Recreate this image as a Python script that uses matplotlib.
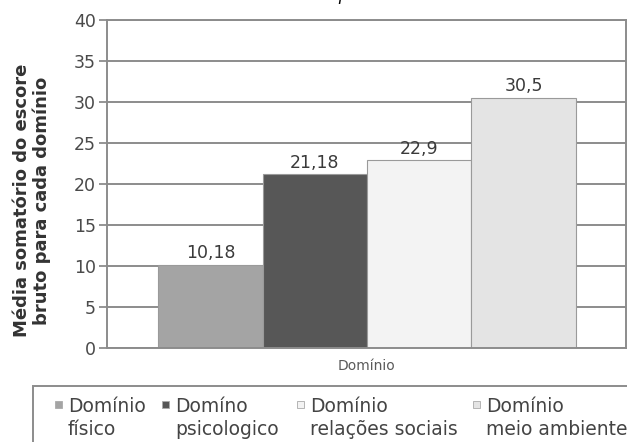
# Média do escore bruto por domínio - gráfico de barras em tons de cinza

import numpy as np
import matplotlib.pyplot as plt
from matplotlib.patches import Rectangle

plt.rcParams['font.family'] = ['DejaVu Sans']

# Dados
dominios = ['Domínio\nfísico', 'Domíno\npsicologico',
            'Domínio\nrelações sociais', 'Domínio\nmeio ambiente']
medias = [10.18, 21.18, 22.9, 30.5]
rotulos = ['10,18', '21,18', '22,9', '30,5']
cores = ['#a4a4a4', '#575757', '#f3f3f3', '#e4e4e4']
yticks = [0, 5, 10, 15, 20, 25, 30, 35, 40]

cinza = '#8c8c8c'

fig = plt.figure(figsize=(6.27, 4.42), dpi=100)
ax = fig.add_axes([0.1707, 0.2127, 0.8275, 0.7421])

x = np.arange(len(medias))
barras = ax.bar(x, medias, width=1.0, color=cores, edgecolor='#9a9a9a',
                linewidth=0.8, zorder=2)

# Valores acima das barras
for b, txt in zip(barras, rotulos):
    ax.text(b.get_x() + b.get_width() / 2, b.get_height() + 0.3, txt,
            ha='center', va='bottom', fontsize=12.5, color='#3a3a3a')

ax.set_xlim(-0.99, 3.98)
ax.set_ylim(0, 40)
ax.set_yticks(yticks)
ax.set_yticklabels([str(v) for v in yticks], fontsize=12.5, color='#4a4a4a')
ax.set_xticks([])
ax.yaxis.grid(True, color=cinza, linewidth=1.4, zorder=0)
ax.set_axisbelow(True)
ax.tick_params(axis='y', length=6, width=1.3, color=cinza, pad=2)

for lado in ['left', 'right', 'bottom', 'top']:
    ax.spines[lado].set_color(cinza)
    ax.spines[lado].set_linewidth(1.4)

ax.set_xlabel('Domínio', fontsize=10, color='#5a5a5a', labelpad=8)
ax.set_ylabel('Média somatório do escore\nbruto para cada domínio',
              fontsize=13, fontweight='bold', color='#333333',
              linespacing=1.1)
ax.yaxis.set_label_coords(-0.108, 0.45)

# Legenda desenhada à mão: caixa com quatro colunas
fig.add_artist(Rectangle((0.0526, -0.05), 1.0, 0.1767, transform=fig.transFigure,
                         facecolor='white', edgecolor=cinza, linewidth=1.4))
leg_x = [0.1085, 0.279, 0.494, 0.775]
for xi, nome, cor in zip(leg_x, dominios, cores):
    fig.add_artist(Rectangle((xi - 0.021, 0.077), 0.0112, 0.0158,
                             transform=fig.transFigure, facecolor=cor,
                             edgecolor='#aaaaaa', linewidth=0.6))
    fig.text(xi, 0.102, nome, fontsize=13.5, color='#444444',
             ha='left', va='top', linespacing=1.3)

# Fragmento do título da página
fig.text(0.547, 1.0, 'p', fontsize=12, family='serif', style='italic',
         ha='center', va='baseline')

plt.savefig('out.png', dpi=100)
